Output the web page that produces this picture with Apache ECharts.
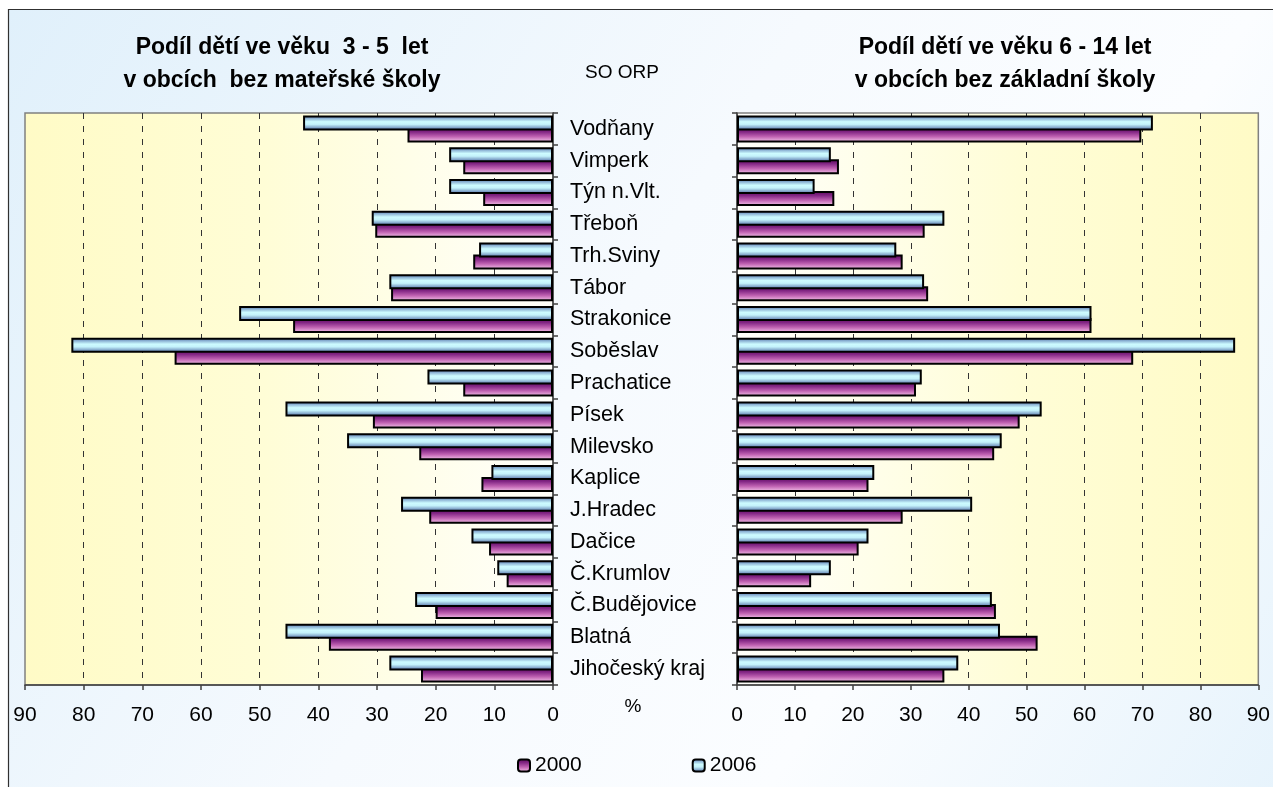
<!DOCTYPE html>
<html>
<head>
<meta charset="utf-8">
<script src="https://cdn.jsdelivr.net/npm/echarts@6/dist/echarts.min.js"></script>
<style>
html,body{margin:0;padding:0;background:#fff;}
#c{width:1273px;height:787px;}
</style>
</head>
<body>
<div id="c"></div>
<script>
var categories = ['Vodňany','Vimperk','Týn n.Vlt.','Třeboň','Trh.Sviny','Tábor','Strakonice','Soběslav','Prachatice','Písek','Milevsko','Kaplice','J.Hradec','Dačice','Č.Krumlov','Č.Budějovice','Blatná','Jihočeský kraj'];
var ms2000 = [24.8,15.3,11.9,30.3,13.6,27.6,44.3,64.5,15.3,30.7,22.8,12.2,21.1,10.9,7.9,20.0,38.2,22.5];
var ms2006 = [42.6,17.7,17.7,30.9,12.6,27.9,53.5,82.1,21.4,45.6,35.1,10.5,25.9,13.9,9.5,23.5,45.6,27.9];
var zs2000 = [69.8,17.6,16.8,32.4,28.6,33.0,61.2,68.4,30.9,48.8,44.4,22.7,28.6,21.0,12.8,44.7,51.9,35.8];
var zs2006 = [71.8,16.2,13.4,35.8,27.5,32.3,61.2,86.0,31.9,52.6,45.7,23.7,40.6,22.7,16.2,44.0,45.4,38.2];
var seriesNames = ['2000','2006'];
var titleLeft = 'Podíl dětí ve věku  3 - 5  let\nv obcích  bez mateřské školy';
var titleRight = 'Podíl dětí ve věku 6 - 14 let\nv obcích bez základní školy';
var xTicks = {min:0, max:90, interval:10};

var FONT = '"Liberation Sans", Arial, sans-serif';
var chart = echarts.init(document.getElementById('c'), null, {renderer:'canvas'});

var grad2006 = new echarts.graphic.LinearGradient(0,0,0,1,[
  {offset:0,color:'#45659a'},{offset:0.2,color:'#8cb2d4'},{offset:0.42,color:'#cdfbff'},
  {offset:0.6,color:'#c4f2fb'},{offset:0.84,color:'#7a9cc4'},{offset:1,color:'#3c5c8c'}]);
var grad2000 = new echarts.graphic.LinearGradient(0,0,0,1,[
  {offset:0,color:'#5a045a'},{offset:0.3,color:'#822684'},{offset:0.62,color:'#c062b2'},{offset:1,color:'#f8cbee'}]);

function bar(name, data, gi, grad, z){
  return {
    name:name, type:'bar', data:data, xAxisIndex:gi, yAxisIndex:gi,
    barWidth:15, barGap:'-20%', z:z,
    itemStyle:{color:grad, borderColor:'#000', borderWidth:2},
    emphasis:{disabled:true}, animation:false
  };
}

function xAxis(gi, inverse){
  return {
    type:'value', gridIndex:gi, min:xTicks.min, max:xTicks.max, interval:xTicks.interval, inverse:inverse,
    position:'bottom',
    axisLine:{show:true, onZero:false, lineStyle:{color:'#404040', width:1.5}},
    axisTick:{show:true, length:5, lineStyle:{color:'#404040', width:1.5}},
    axisLabel:{show:true, margin:20, fontSize:21, color:'#000', fontFamily:FONT},
    splitLine:{show:true, showMinLine:false, showMaxLine:false, lineStyle:{color:'#333', width:1, type:[6,7]}}
  };
}
function yAxis(gi, pos, labels){
  return {
    type:'category', gridIndex:gi, data:categories, inverse:true, position:pos,
    axisLine:{show:true, onZero:false, lineStyle:{color:'#404040', width:1.5}},
    axisTick:{show:true, inside:false, length:5, alignWithLabel:false, lineStyle:{color:'#404040', width:1.5}},
    axisLabel:{show:labels, margin:17, fontSize:21.5, color:'#000', fontFamily:FONT, align:'left'},
    splitLine:{show:false}
  };
}

var option = {
  backgroundColor:'#ffffff',
  animation:false,
  textStyle:{fontFamily:FONT},
  graphic:[{
    type:'rect', z:-10, silent:true,
    shape:{x:8.5, y:9.5, width:1280, height:800},
    style:{
      fill:new echarts.graphic.LinearGradient(0,0,1,1,[
        {offset:0,color:'#e0f0fb'},{offset:0.45,color:'#f6fafe'},{offset:0.7,color:'#fbfdff'},{offset:1,color:'#e6f3fc'}]),
      stroke:'#303030', lineWidth:1.2
    }
  }],
  title:[
    {text:titleLeft, left:282, top:31, textAlign:'center', padding:0,
     textStyle:{fontSize:23, fontWeight:'bold', color:'#000', lineHeight:33, fontFamily:FONT}},
    {text:titleRight, left:1005, top:31, textAlign:'center', padding:0,
     textStyle:{fontSize:23, fontWeight:'bold', color:'#000', lineHeight:33, fontFamily:FONT}},
    {text:'SO ORP', left:622, top:63, textAlign:'center', padding:0,
     textStyle:{fontSize:19, fontWeight:'normal', color:'#000', fontFamily:FONT}},
    {text:'%', left:633, top:697, textAlign:'center', padding:0,
     textStyle:{fontSize:19, fontWeight:'normal', color:'#000', fontFamily:FONT}}
  ],
  legend:{
    data:seriesNames, left:517, top:755, padding:0, itemWidth:12, itemHeight:12, itemGap:110,
    textStyle:{fontSize:21, color:'#000', fontFamily:FONT},
    selectedMode:false
  },
  grid:[
    {left:25, right:720, top:113, bottom:102, show:true, borderColor:'#808080', borderWidth:1.5,
     backgroundColor:new echarts.graphic.LinearGradient(0,0,1,0,[
       {offset:0,color:'#fffbc6'},{offset:0.45,color:'#fffdd6'},{offset:1,color:'#fffffb'}])},
    {left:737, right:12, top:113, bottom:102, show:true, borderColor:'#808080', borderWidth:1.5,
     backgroundColor:new echarts.graphic.LinearGradient(0,0,1,0,[
       {offset:0,color:'#fffffb'},{offset:0.55,color:'#fffdd6'},{offset:1,color:'#fffbc6'}])}
  ],
  xAxis:[xAxis(0,true), xAxis(1,false)],
  yAxis:[yAxis(0,'right',true), yAxis(1,'left',false)],
  series:[
    bar('2006', ms2006, 0, grad2006, 3),
    bar('2000', ms2000, 0, grad2000, 2),
    bar('2006', zs2006, 1, grad2006, 3),
    bar('2000', zs2000, 1, grad2000, 2)
  ]
};
chart.setOption(option);
</script>
</body>
</html>
